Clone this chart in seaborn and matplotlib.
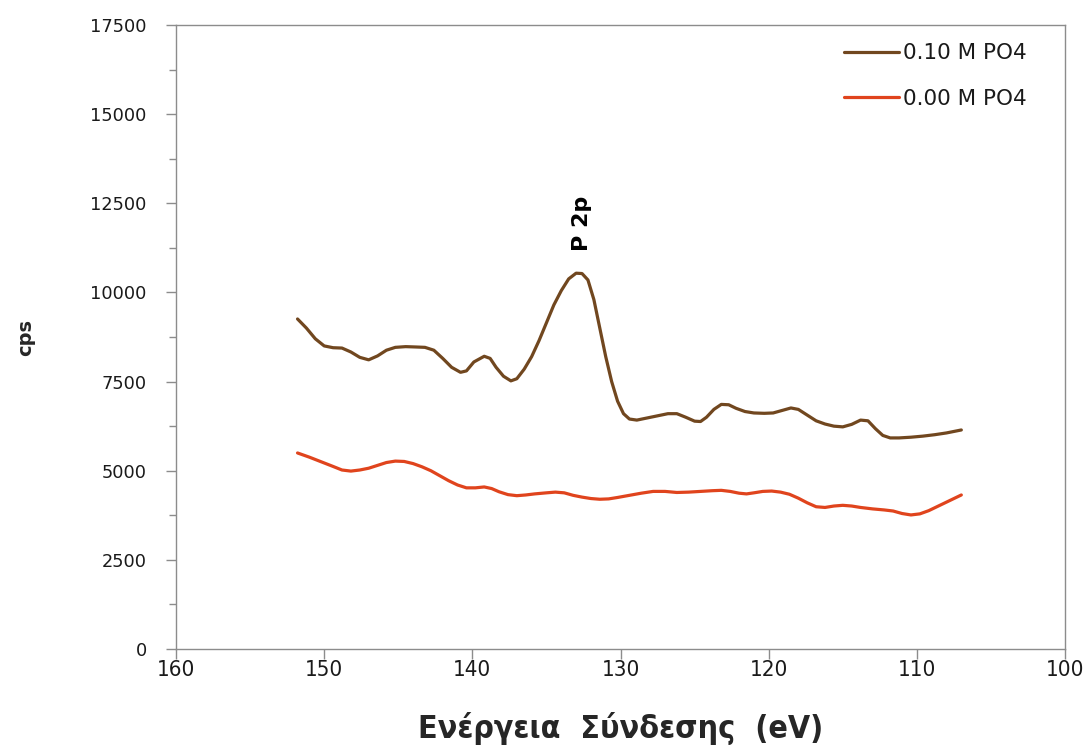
import numpy as np
import pandas as pd
import seaborn as sns
import matplotlib.pyplot as plt
from matplotlib.ticker import MultipleLocator

sns.set_theme(style="white")
plt.rcParams['font.family'] = ['DejaVu Sans']

# Binding energy (eV) and counts per second for each sample
energy_010 = [151.8, 151.2, 150.6, 150.0, 149.4, 148.8, 148.2, 147.6, 147.0, 146.4,
              145.8, 145.2, 144.5, 143.8, 143.2, 142.6, 142.0, 141.4, 140.8, 140.4,
              139.9, 139.2, 138.8, 138.4, 137.9, 137.4, 137.0, 136.5, 136.0, 135.5,
              135.0, 134.5, 134.0, 133.5, 133.0, 132.6, 132.2, 131.8, 131.4, 131.0,
              130.6, 130.2, 129.8, 129.4, 128.9, 128.2, 127.5, 126.8, 126.2, 125.6,
              125.0, 124.6, 124.2, 123.7, 123.2, 122.7, 122.2, 121.6, 121.0, 120.3,
              119.7, 119.1, 118.5, 118.0, 117.4, 116.8, 116.2, 115.6, 115.0, 114.4,
              113.8, 113.3, 112.8, 112.3, 111.8, 111.2, 110.4, 109.6, 108.8, 108.0,
              107.0]
cps_010 = [9256, 9000, 8700, 8500, 8450, 8440, 8330, 8180, 8110, 8220,
           8380, 8460, 8480, 8470, 8460, 8380, 8150, 7900, 7760, 7800,
           8050, 8210, 8150, 7900, 7650, 7520, 7580, 7850, 8200, 8650,
           9150, 9650, 10050, 10380, 10540, 10530, 10350, 9800, 9000, 8200,
           7500, 6950, 6600, 6450, 6420, 6480, 6540, 6600, 6600, 6500,
           6390, 6380, 6500, 6720, 6860, 6850, 6750, 6660, 6620, 6610,
           6620, 6690, 6760, 6720, 6560, 6400, 6310, 6250, 6230, 6300,
           6420, 6400, 6180, 5990, 5920, 5920, 5940, 5970, 6010, 6060,
           6143]

energy_000 = [151.8, 151.0, 150.2, 149.4, 148.8, 148.2, 147.6, 147.0, 146.4, 145.8,
              145.2, 144.6, 144.0, 143.4, 142.8, 142.2, 141.6, 141.0, 140.4, 139.8,
              139.2, 138.7, 138.2, 137.6, 137.0, 136.4, 135.8, 135.0, 134.4, 133.8,
              133.2, 132.6, 132.0, 131.4, 130.8, 130.2, 129.4, 128.6, 127.8, 127.0,
              126.2, 125.4, 124.6, 123.8, 123.2, 122.6, 122.0, 121.5, 121.0, 120.4,
              119.8, 119.2, 118.6, 118.0, 117.4, 116.8, 116.2, 115.6, 115.0, 114.4,
              113.8, 113.0, 112.2, 111.6, 111.0, 110.4, 109.8, 109.2, 108.6, 108.0,
              107.4, 107.0]
cps_000 = [5498, 5380, 5250, 5120, 5020, 4990, 5020, 5070, 5150, 5230,
           5270, 5260, 5200, 5110, 5000, 4860, 4720, 4600, 4520, 4520,
           4545, 4500, 4410, 4330, 4300, 4320, 4350, 4380, 4400, 4380,
           4310, 4260, 4220, 4200, 4210, 4250, 4310, 4370, 4420, 4420,
           4390, 4400, 4420, 4440, 4450, 4420, 4370, 4350, 4380, 4420,
           4430, 4400, 4340, 4230, 4100, 3990, 3970, 4010, 4030, 4010,
           3970, 3930, 3900, 3870, 3800, 3760, 3790, 3880, 4000, 4120,
           4240, 4320]

series_names = ["0.10 M PO4", "0.00 M PO4"]
series_colors = ["#71471F", "#E0441D"]

x_ticks = [160, 150, 140, 130, 120, 110, 100]
y_ticks = [0, 2500, 5000, 7500, 10000, 12500, 15000, 17500]

peak_label = "P 2p"
peak_pos = (132.6, 11950)

df = pd.concat([
    pd.DataFrame({"energy": energy_010, "cps": cps_010, "sample": series_names[0]}),
    pd.DataFrame({"energy": energy_000, "cps": cps_000, "sample": series_names[1]}),
], ignore_index=True)

fig = plt.figure(figsize=(10.88, 7.51), dpi=100)
ax = fig.add_axes([0.1618, 0.1358, 0.8171, 0.8309])

sns.lineplot(data=df, x="energy", y="cps", hue="sample", hue_order=series_names,
             palette=series_colors, sort=False, estimator=None, linewidth=2.3, ax=ax)
for ln in ax.get_lines():
    ln.set_solid_joinstyle("round")
    ln.set_solid_capstyle("round")

ax.set_xlim(160, 100)
ax.set_ylim(0, 17500)
ax.set_xticks(x_ticks)
ax.set_yticks(y_ticks)
ax.yaxis.set_minor_locator(MultipleLocator(1250))

for sp in ax.spines.values():
    sp.set_color("#8c8c8c")
    sp.set_linewidth(1.0)

ax.tick_params(axis="x", which="major", direction="out", length=7, width=1,
               color="#8c8c8c", bottom=True, pad=1)
ax.tick_params(axis="y", which="both", direction="out", width=1,
               color="#8c8c8c", left=True)
ax.tick_params(axis="y", which="major", length=7, pad=14)
ax.tick_params(axis="y", which="minor", length=5)

for lbl in ax.get_yticklabels():
    lbl.set_fontsize(12.8)
    lbl.set_color("#1a1a1a")
for lbl in ax.get_xticklabels():
    lbl.set_fontstretch("condensed")
    lbl.set_fontsize(16)
    lbl.set_color("#1a1a1a")

ax.set_xlabel("Ενέργεια  Σύνδεσης  (eV)", fontsize=23, fontweight="bold",
              fontstretch="condensed", labelpad=23)
ax.set_ylabel("cps", fontsize=14, fontweight="bold", labelpad=40)

ax.text(peak_pos[0], peak_pos[1], peak_label, rotation=90, ha="center", va="center",
        fontsize=16, fontweight="bold", color="black")

leg = ax.legend(loc="upper right", bbox_to_anchor=(0.979, 1.002), frameon=False,
                fontsize=15.5, handlelength=2.55, handletextpad=0.2, labelspacing=1.2)
for t in leg.get_texts():
    t.set_color("#1a1a1a")

fig.savefig("out.png", dpi=100)
